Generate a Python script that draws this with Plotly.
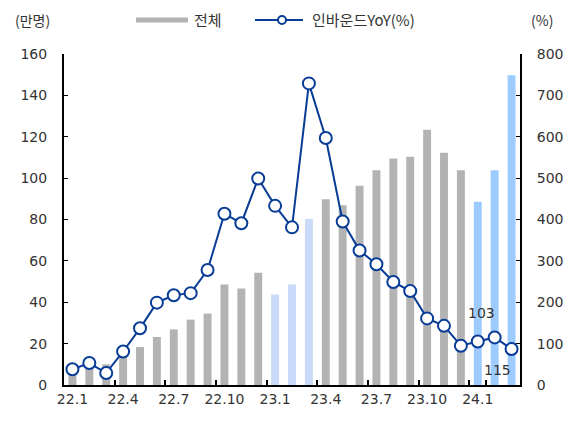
import plotly.graph_objects as go

months = ["22.1","22.2","22.3","22.4","22.5","22.6","22.7","22.8","22.9","22.10","22.11","22.12",
          "23.1","23.2","23.3","23.4","23.5","23.6","23.7","23.8","23.9","23.10","23.11","23.12",
          "24.1","24.2","24.3"]
total = [6, 9, 10, 14, 18.4, 23.2, 26.9, 31.6, 34.5, 48.6, 46.6, 54.2,
         43.8, 48.6, 80.3, 89.8, 86.9, 96.3, 103.8, 109.5, 110.3, 123.4, 112.3, 103.8,
         88.6, 103.8, 149.7]
yoy = [38, 53, 29, 81, 137, 199, 217, 222, 278, 414, 391, 499,
       433, 381, 729, 597, 395, 325, 292, 249, 227, 161, 143, 95,
       105, 115, 87]
tick_labels = ["22.1","22.4","22.7","22.10","23.1","23.4","23.7","23.10","24.1"]

GRAY = "#b3b3b3"
LIGHT = "#c9dbf9"
BLUE = "#9dcbfd"
LINE = "#083c96"
bar_colors = []
for m in months:
    if m in ("23.1", "23.2", "23.3"):
        bar_colors.append(LIGHT)
    elif m.startswith("24."):
        bar_colors.append(BLUE)
    else:
        bar_colors.append(GRAY)

FONT = "DejaVu Sans"
TXT = "#333333"

fig = go.Figure()
fig.add_trace(go.Bar(x=months, y=total, marker=dict(color=bar_colors, line=dict(width=0)),
                     name="전체", yaxis="y", showlegend=False))
fig.add_trace(go.Scatter(x=months, y=yoy, mode="lines+markers", name="인바운드YoY(%)",
                         yaxis="y2", showlegend=False,
                         line=dict(color=LINE, width=2),
                         marker=dict(symbol="circle", size=12, color="white",
                                     line=dict(color=LINE, width=2))))

L, R, T, B = 64, 520, 54, 385
W, H = R - L, B - T
def px(x):
    return (x - L) / W
def py(y):
    return (B - y) / H

shapes = [
    dict(type="rect", xref="paper", yref="paper", x0=px(136), x1=px(188), y0=py(22.5), y1=py(17.5),
         fillcolor=GRAY, line=dict(width=0)),
    dict(type="line", xref="paper", yref="paper", x0=px(255), x1=px(303), y0=py(20), y1=py(20),
         line=dict(color=LINE, width=2)),
    dict(type="circle", xref="paper", yref="paper", x0=px(278), x1=px(286), y0=py(24), y1=py(16),
         fillcolor="white", line=dict(color=LINE, width=2)),
]

def ann(text, x, y, anchor="left"):
    return dict(text=text, xref="paper", yref="paper", x=px(x), y=py(y), xanchor=anchor,
                yanchor="middle", showarrow=False, font=dict(family=FONT, size=14, color=TXT))

annotations = [
    dict(text="(만명)", xref="paper", yref="paper", x=px(13), y=py(20), xanchor="left", yanchor="middle",
         showarrow=False, font=dict(family="Noto Sans CJK KR", size=14, color=TXT)),
    dict(text="(%)", xref="paper", yref="paper", x=px(529), y=py(20), xanchor="left", yanchor="middle",
         showarrow=False, font=dict(family="Noto Sans CJK KR", size=14, color=TXT)),
    dict(text="전체", xref="paper", yref="paper", x=px(192), y=py(20), xanchor="left", yanchor="middle",
         showarrow=False, font=dict(family="Noto Sans CJK KR", size=15, color=TXT)),
    dict(text="인바운드YoY(%)", xref="paper", yref="paper", x=px(310), y=py(20), xanchor="left", yanchor="middle",
         showarrow=False, font=dict(family="Noto Sans CJK KR", size=15, color=TXT)),
    ann("103", 481, 313, "center"),
    ann("115", 497, 370, "center"),
]

fig.update_layout(
    width=579, height=423,
    margin=dict(l=L, r=579 - R, t=T, b=423 - B, pad=0, autoexpand=False),
    paper_bgcolor="white", plot_bgcolor="white",
    bargap=0.53,
    font=dict(family=FONT, size=14, color=TXT),
    xaxis=dict(type="category", categoryorder="array", categoryarray=months,
               tickmode="array", tickvals=tick_labels, ticktext=tick_labels, tickangle=0,
               tickson="boundaries", ticks="inside", ticklen=5, tickcolor="black", tickwidth=1.5,
               showline=True, linecolor="black", linewidth=2, showgrid=False, zeroline=False,
               automargin=False,
               tickfont=dict(family=FONT, size=14, color=TXT), range=[-0.5, 26.5]),
    yaxis=dict(range=[0, 160], dtick=20, ticks="inside", ticklen=4, tickcolor="black",
               showline=True, linecolor="black", linewidth=2, showgrid=False, zeroline=False,
               automargin=False,
               tickfont=dict(family=FONT, size=14, color=TXT), ticklabelstandoff=12),
    yaxis2=dict(range=[0, 800], dtick=100, overlaying="y", side="right", ticks="inside", ticklen=4,
                tickcolor="black", showline=True, linecolor="black", linewidth=2, showgrid=False,
                zeroline=False, automargin=False,
                tickfont=dict(family=FONT, size=14, color=TXT), ticklabelstandoff=12),
    shapes=shapes, annotations=annotations,
)

fig.write_html("out.html", config={"displayModeBar": False},
               post_script="document.body.style.margin='0';document.body.style.overflow='hidden';")
